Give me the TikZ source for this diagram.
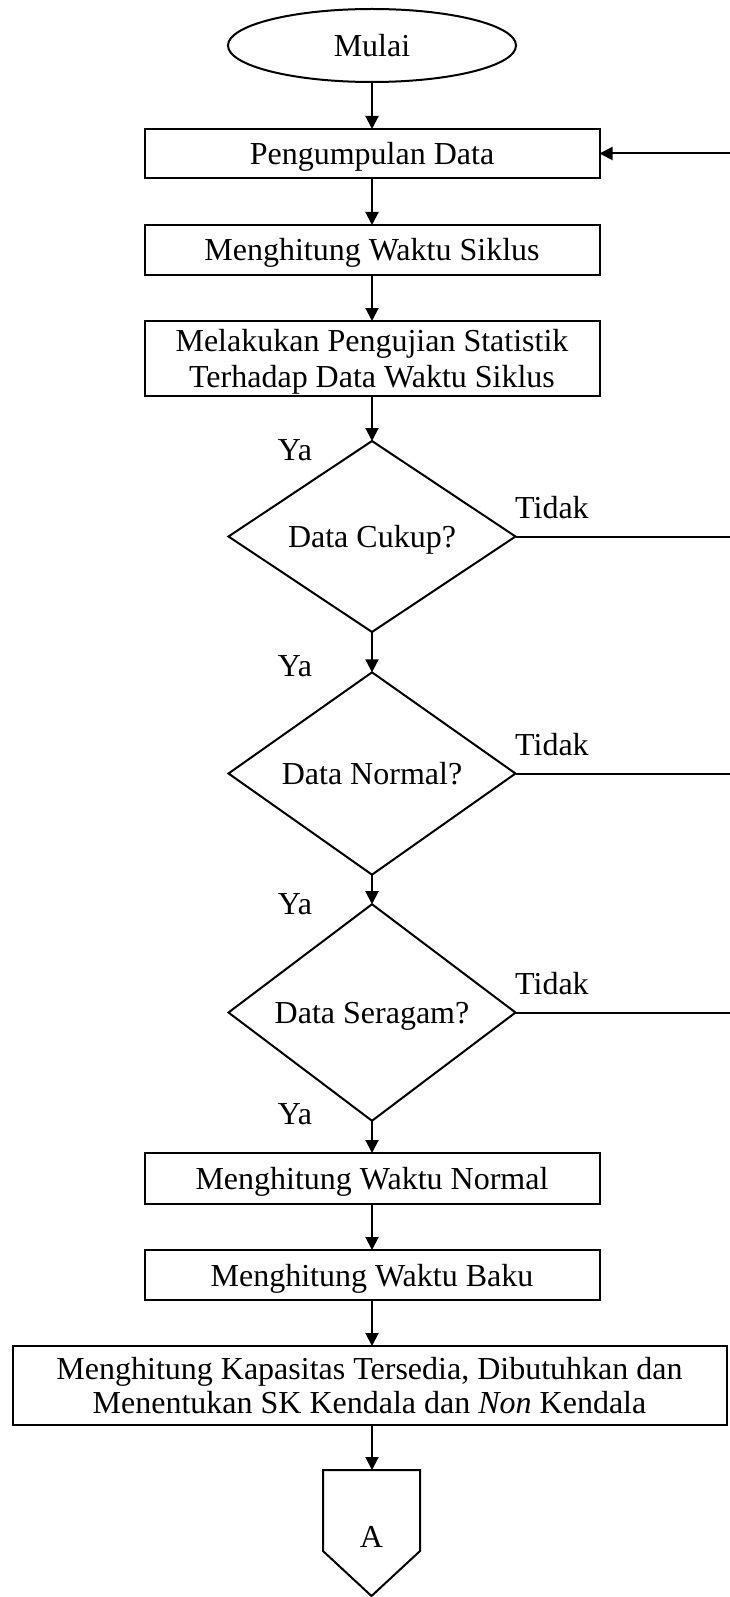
\documentclass[tikz,border=0pt]{standalone}
\usepackage{fontspec}
\setmainfont{Liberation Serif}
\usetikzlibrary{shapes.geometric, arrows.meta}

\tikzset{
  txt/.style={font=\fontsize{32}{36.8}\selectfont},
  base/.style={txt, draw, line width=2pt, inner sep=0pt, outer sep=0pt},
  procbox/.style={base, rectangle, minimum width=455pt, minimum height=#1,
    align=center, text height=22pt, text depth=-5pt},
  procbox/.default=49pt,
  multibox/.style={base, rectangle, minimum width=455pt, minimum height=#1, align=center},
  decision/.style={base, diamond, minimum width=287pt, minimum height=191pt,
    text height=22pt, text depth=-8pt},
  terminal/.style={base, ellipse, minimum width=288pt, minimum height=73pt,
    text height=22pt, text depth=-7pt},
  flow/.style={line width=2pt, -{Triangle[length=13pt,width=13pt]}},
  plain/.style={line width=2pt},
  lbl/.style={txt, inner sep=0pt, anchor=base},
  lblr/.style={txt, inner sep=0pt, anchor=base west}
}

\begin{document}
\begin{tikzpicture}[x=1pt, y=-1pt]
\useasboundingbox (0,0) rectangle (729,1597);

% main column
\node[terminal] (mulai) at (372,45.5) {Mulai};
\node[procbox=49pt] (kumpul) at (372,153.5) {Pengumpulan Data};
\node[procbox=50pt] (siklus) at (372,250) {Menghitung Waktu Siklus};
\node[multibox=75pt, font=\fontsize{32}{35.6}\selectfont, text depth=-1pt] (uji) at (372,358.5)
  {Melakukan Pengujian Statistik\\Terhadap Data Waktu Siklus};
\node[decision] (cukup) at (372,536.5) {Data Cukup?};
\node[decision] (normal) at (372,773.5) {Data Normal?};
\node[decision] (seragam) at (372,1012.5) {Data Seragam?};
\node[procbox=51pt] (wnormal) at (372,1178.5) {Menghitung Waktu Normal};
\node[procbox=50pt] (wbaku) at (372,1275) {Menghitung Waktu Baku};
\node[multibox=79pt, minimum width=714pt, font=\fontsize{32}{33.5}\selectfont, text depth=0pt]
  (kapasitas) at (369.5,1385.5)
  {Menghitung Kapasitas Tersedia, Dibutuhkan dan\\Menentukan SK Kendala dan \textit{Non} Kendala};

% off-page connector
\coordinate (cTop) at (372,1470);
\coordinate (cTL) at (323,1470);
\coordinate (cTR) at (420,1470);
\coordinate (cBR) at (420,1551);
\coordinate (cTip) at (371.5,1596);
\coordinate (cBL) at (323,1551);
\draw[plain, line join=miter] (cTL) -- (cTR) -- (cBR) -- (cTip) -- (cBL) -- cycle;
\node[txt, inner sep=0pt] (conA) at (371.5,1537) {A};

% right-hand return line edge
\coordinate (edge) at (731,0);
\coordinate (ret) at (731,153.5);

% vertical flow
\draw[flow] (mulai.south) -- (kumpul.north);
\draw[flow] (kumpul.south) -- (siklus.north);
\draw[flow] (siklus.south) -- (uji.north);
\draw[flow] (uji.south) -- (cukup.north);
\draw[flow] (cukup.south) -- (normal.north);
\draw[flow] (normal.south) -- (seragam.north);
\draw[flow] (seragam.south) -- (wnormal.north);
\draw[flow] (wnormal.south) -- (wbaku.north);
\draw[flow] (wbaku.south) -- (wbaku.south |- kapasitas.north);
\draw[flow] (kapasitas.south -| cTop) -- (cTop);

% "Tidak" branches leaving to the right
\draw[plain] (cukup.east) -- (cukup.east -| edge);
\draw[plain] (normal.east) -- (normal.east -| edge);
\draw[plain] (seragam.east) -- (seragam.east -| edge);
\draw[flow] (ret) -- (kumpul.east);

% branch labels
\node[lbl] (ya1) at (295,460) {Ya};
\node[lbl] (ya2) at (295,676) {Ya};
\node[lbl] (ya3) at (295,914) {Ya};
\node[lbl] (ya4) at (295,1124) {Ya};
\node[lblr] (td1) at (515,518.5) {Tidak};
\node[lblr] (td2) at (515,755.5) {Tidak};
\node[lblr] (td3) at (515,994.5) {Tidak};
\end{tikzpicture}
\end{document}
